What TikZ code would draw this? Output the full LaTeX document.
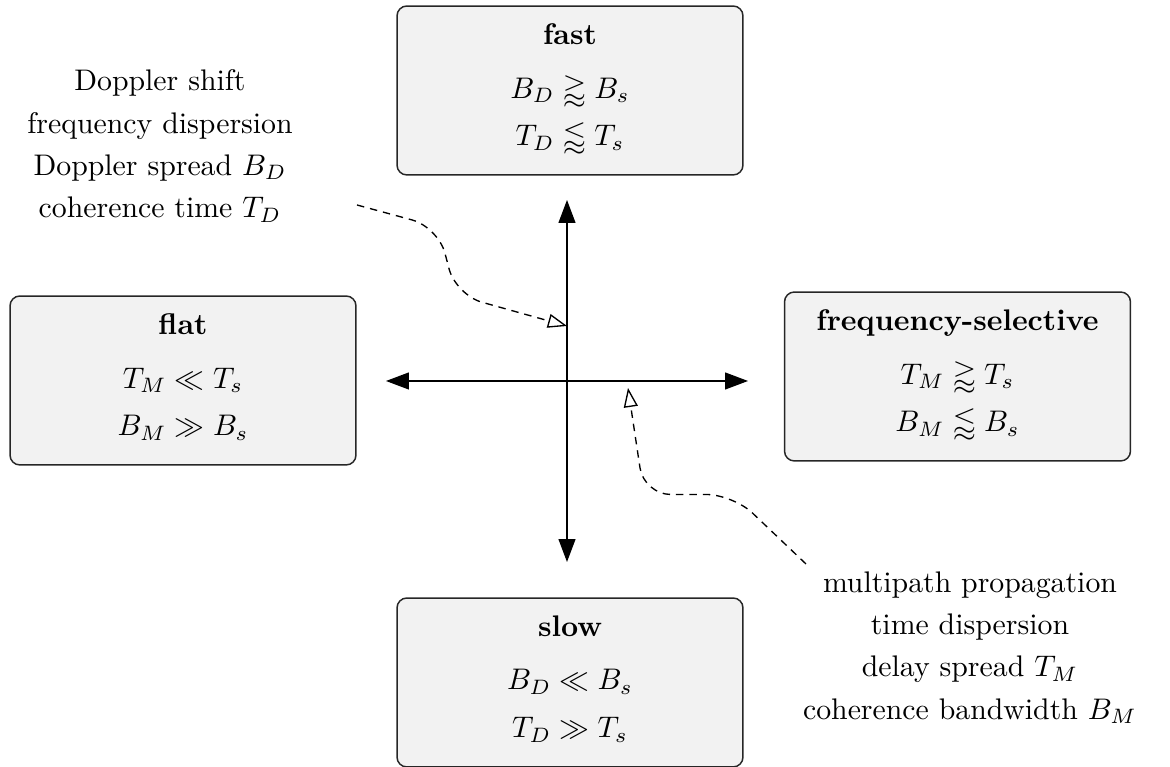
\documentclass[tikz,border=0pt]{standalone}
\usepackage{amsmath,amssymb}
\usetikzlibrary{arrows.meta}
\begin{document}
\begin{tikzpicture}[x=0.3356pt,y=-0.3356pt,
  box/.style={draw=black!85, line width=0.5pt, fill=black!5, rounded corners=3.3pt,
    minimum width=116.1pt, minimum height=56.7pt, align=center, inner sep=0pt,
    font=\fontsize{10}{13}\selectfont},
  axis/.style={line width=0.4pt, draw=black,
    {Triangle[length=7.7pt,width=5.7pt]}-{Triangle[length=7.7pt,width=5.7pt]}},
  note/.style={align=center, inner sep=0pt, font=\fontsize{10}{14.2}\selectfont},
  hint/.style={draw=black, line width=0.45pt, dash pattern=on 2.5pt off 2pt,
    -{Triangle[open,length=6.4pt,width=4.7pt]}}
]
\useasboundingbox (0,0) rectangle (1170,767);

\node[box] (fast) at (570,90.5) {\textbf{fast}\\[5pt]
  $\begin{aligned}[t] B_D &\gtrapprox B_s\\ T_D &\lessapprox T_s\end{aligned}$};
\node[box] (slow) at (570,682.5) {\textbf{slow}\\[5pt]
  $\begin{aligned}[t] B_D &\ll B_s\\ T_D &\gg T_s\end{aligned}$};
\node[box] (flat) at (183,380.5) {\textbf{flat}\\[5pt]
  $\begin{aligned}[t] T_M &\ll T_s\\ B_M &\gg B_s\end{aligned}$};
\node[box] (fsel) at (957.5,376.5) {\textbf{frequency-selective}\\[5pt]
  $\begin{aligned}[t] T_M &\gtrapprox T_s\\ B_M &\lessapprox B_s\end{aligned}$};

\node[note] (dop) at (160,146) {Doppler shift\\frequency dispersion\\Doppler spread $B_D$\\coherence time $T_D$};
\node[note] (mp) at (970,647.5) {multipath propagation\\time dispersion\\delay spread $T_M$\\coherence bandwidth $B_M$};

\coordinate (o) at (567,381);
\coordinate (axN) at (567,200);
\coordinate (axS) at (567,562);
\coordinate (axW) at (386,381);
\coordinate (axE) at (748,381);
\draw[axis] (axW) -- (axE);
\draw[axis] (axS) -- (axN);

\coordinate (dopS) at (357,205);
\coordinate (dopT) at (567,326);
\draw[hint, rounded corners=9pt] (dopS) -- (438,227) -- (456,295) -- (dopT);

\coordinate (mpS) at (806,564);
\coordinate (mpT) at (628,388);
\draw[hint, rounded corners=9pt] (mpS) -- (733,494.5) -- (644,494.5) -- (mpT);
\end{tikzpicture}
\end{document}
